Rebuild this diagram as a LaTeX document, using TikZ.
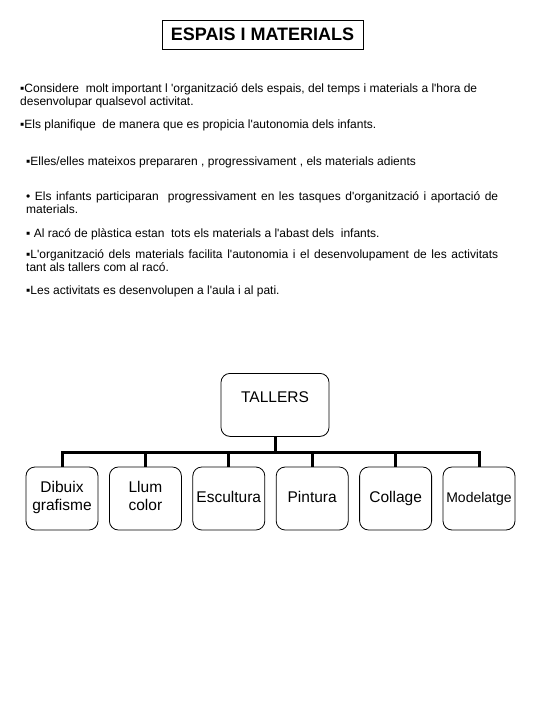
\documentclass[tikz,border=0pt]{standalone}
\usepackage{fontspec}
\setmainfont{Liberation Sans}[Ligatures=TeXOff]
\usetikzlibrary{positioning}
\tikzset{titlebox/.style={draw, line width=0.8pt, minimum width=201pt, minimum height=29pt, inner sep=0pt, font=\fontsize{18}{20}\selectfont\bfseries}}
\tikzset{para/.style={anchor=base west, inner sep=0pt, align=left, font=\fontsize{12}{13.5}\selectfont}}
\tikzset{justified/.style={text width=472pt, align=justify}}
\tikzset{rootbox/.style={draw, line width=0.8pt, rounded corners=9pt, anchor=north, minimum width=108pt, text height=12pt, text depth=17.6pt, inner ysep=16.7pt, font=\fontsize{15.5}{18}\selectfont}}
\tikzset{leaf/.style={draw, line width=0.8pt, rounded corners=9pt, minimum width=72pt, minimum height=63pt, inner sep=1pt, align=center, execute at begin node=\strut, execute at end node=\strut}}
\tikzset{branch/.style={line width=3pt}}

\begin{document}
\begin{tikzpicture}[x=1pt,y=-1pt]
\useasboundingbox (0,0) rectangle (540,720);

% title
\node[titlebox] (title) at (262.5,34.5) {ESPAIS I MATERIALS};

% text
\node[para] (p1) at (20,105.5) {▪Considere\ \ molt important l 'organització dels espais, del temps i materials a l'hora de\\desenvolupar qualsevol activitat.};
\node[para] (p2) at (20,128) {▪Els planifique\ \ de manera que es propicia l'autonomia dels infants.};
\node[para] (p3) at (26,165) {▪Elles/elles mateixos prepararen , progressivament , els materials adients};
\node[para, justified] (p4) at (26,200) {•\ Els infants participaran\ \ progressivament en les tasques d'organització i aportació de\linebreak materials.};
\node[para] (p5) at (26,237) {▪ Al racó de plàstica estan\ \ tots els materials a l'abast dels\ \ infants.};
\node[para, justified] (p6) at (26,258) {▪L'organització dels materials facilita l'autonomia i el desenvolupament de les activitats\linebreak tant als tallers com al racó.};
\node[para] (p7) at (26,294) {▪Les activitats es desenvolupen a l'aula i al pati.};

% tallers
\node[rootbox] (tallers) at (275,373) {TALLERS};
\coordinate (hub) at (275,452);
\foreach \name/\txt/\fs [count=\i] in {dibuix/{Dibuix\\grafisme}/15.5, llum/{Llum\\color}/15.5, escultura/Escultura/15.5, pintura/Pintura/15.5, collage/Collage/15.5, modelatge/Modelatge/14}
  \node[leaf, font=\fontsize{\fs}{18}\selectfont] (\name) at ({62+83.4*(\i-1)},498.5) {\txt};

\draw[branch] (tallers) -- (hub);
\draw[branch] (dibuix.north) |- (modelatge.north |- hub) -- (modelatge.north);
\foreach \name in {llum,escultura,pintura,collage}
  \draw[branch] (\name.north) -- (\name.north |- hub);
\end{tikzpicture}
\end{document}
